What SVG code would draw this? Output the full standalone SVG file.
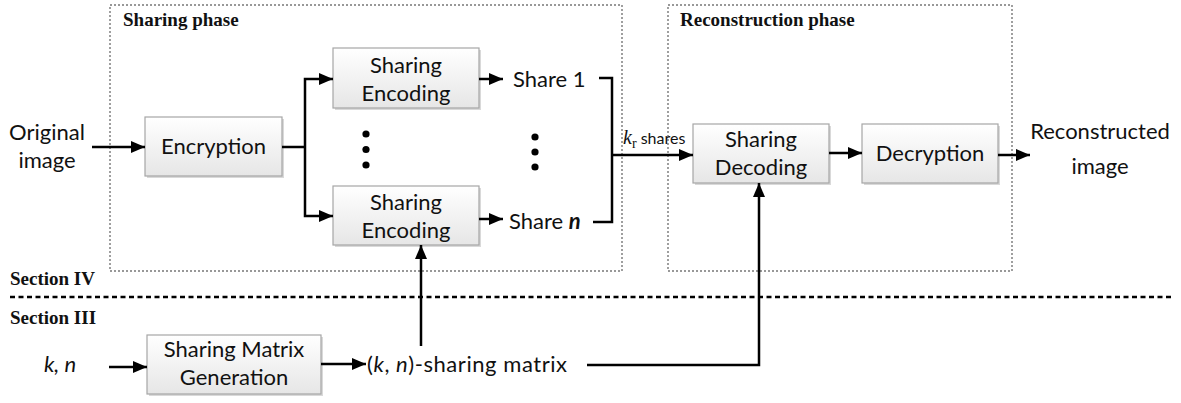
<svg xmlns="http://www.w3.org/2000/svg" width="1181" height="403" viewBox="0 0 1181 403">
  <style>
    .box { fill: url(#boxFill); stroke: #a6a6a6; stroke-width: 1.2; }
    .shadow { fill: #d9d9d9; }
    .lbl { font-family: Lato, "Liberation Sans", sans-serif; font-size: 22px; fill: #111; text-anchor: middle; }
    .lbl-l { font-family: Lato, "Liberation Sans", sans-serif; font-size: 22px; fill: #111; }
    .phase { font-family: "Liberation Serif", serif; font-weight: bold; font-size: 19px; fill: #111; }
    .region { fill: none; stroke: #777; stroke-width: 1.4; stroke-dasharray: 2 2; }
    .wire { fill: none; stroke: #000; stroke-width: 2.5; }
    .arrow { fill: none; stroke: #000; stroke-width: 2.5; marker-end: url(#head); }
    .divider { stroke: #000; stroke-width: 2.6; stroke-dasharray: 5 3.5; }
    .dot { fill: #000; }
  </style>
  <defs>
    <linearGradient id="boxFill" x1="0" y1="0" x2="0" y2="1">
      <stop offset="0" stop-color="#ffffff"/>
      <stop offset="1" stop-color="#e6e6e6"/>
    </linearGradient>
    <marker id="head" viewBox="0 0 14 12" refX="14" refY="6" markerWidth="14" markerHeight="12" markerUnits="userSpaceOnUse" orient="auto">
      <path d="M0,0 L14,6 L0,12 z" fill="#000"/>
    </marker>
  </defs>

  <rect width="1181" height="403" fill="#fff"/>

  <!-- phase regions -->
  <g id="sharing-phase">
    <rect class="region" x="110" y="5" width="512" height="266"/>
    <text class="phase" x="123" y="26">Sharing phase</text>
  </g>
  <g id="reconstruction-phase">
    <rect class="region" x="668" y="5" width="344" height="266"/>
    <text class="phase" x="680" y="26">Reconstruction phase</text>
  </g>

  <!-- section split -->
  <g id="sections">
    <text class="phase" x="10" y="285">Section IV</text>
    <line class="divider" x1="10" y1="297" x2="1172" y2="297"/>
    <text class="phase" x="10" y="324">Section III</text>
  </g>

  <!-- nodes -->
  <g id="original-image">
    <text class="lbl" x="47" y="140">Original</text>
    <text class="lbl" x="47" y="168">image</text>
  </g>

  <g id="encryption">
    <rect class="shadow" x="147" y="119" width="137" height="59"/>
    <rect class="box" x="145" y="117" width="137" height="59"/>
    <text class="lbl" x="213.5" y="154">Encryption</text>
  </g>

  <g id="sharing-encoding-1">
    <rect class="shadow" x="335" y="50" width="146" height="60"/>
    <rect class="box" x="333" y="48" width="146" height="60"/>
    <text class="lbl" x="406" y="73">Sharing</text>
    <text class="lbl" x="406" y="101">Encoding</text>
  </g>

  <g id="sharing-encoding-n">
    <rect class="shadow" x="335" y="188" width="146" height="59"/>
    <rect class="box" x="333" y="186" width="146" height="59"/>
    <text class="lbl" x="406" y="210">Sharing</text>
    <text class="lbl" x="406" y="238">Encoding</text>
  </g>

  <g id="ellipsis-encoders">
    <circle class="dot" cx="366" cy="134" r="3.6"/>
    <circle class="dot" cx="366" cy="149.5" r="3.6"/>
    <circle class="dot" cx="366" cy="165" r="3.6"/>
  </g>

  <g id="share-1">
    <text class="lbl-l" x="513" y="87">Share 1</text>
  </g>
  <g id="share-n">
    <text class="lbl-l" x="509" y="229">Share <tspan font-weight="bold" font-style="italic">n</tspan></text>
  </g>
  <g id="ellipsis-shares">
    <circle class="dot" cx="535" cy="137" r="3.6"/>
    <circle class="dot" cx="535" cy="152" r="3.6"/>
    <circle class="dot" cx="535" cy="167" r="3.6"/>
  </g>

  <g id="sharing-decoding">
    <rect class="shadow" x="695" y="126" width="136" height="59"/>
    <rect class="box" x="693" y="124" width="136" height="59"/>
    <text class="lbl" x="761" y="147">Sharing</text>
    <text class="lbl" x="761" y="175">Decoding</text>
  </g>

  <g id="decryption">
    <rect class="shadow" x="864" y="126" width="136" height="59"/>
    <rect class="box" x="862" y="124" width="136" height="59"/>
    <text class="lbl" x="930" y="161">Decryption</text>
  </g>

  <g id="reconstructed-image">
    <text class="lbl" x="1100" y="139">Reconstructed</text>
    <text class="lbl" x="1100" y="174">image</text>
  </g>

  <g id="params">
    <text class="lbl" x="60" y="372" font-style="italic">k, n</text>
  </g>

  <g id="matrix-generation">
    <rect class="shadow" x="149" y="337" width="174" height="59"/>
    <rect class="box" x="147" y="335" width="174" height="59"/>
    <text class="lbl" x="234" y="357">Sharing Matrix</text>
    <text class="lbl" x="234" y="385">Generation</text>
  </g>

  <g id="sharing-matrix">
    <text class="lbl-l" x="367" y="372" textLength="200" lengthAdjust="spacing">(<tspan font-style="italic">k</tspan>, <tspan font-style="italic">n</tspan>)-sharing matrix</text>
  </g>

  <!-- connectors -->
  <g id="connectors">
    <line class="arrow" x1="92" y1="147" x2="145" y2="147"/>
    <polyline class="wire" points="282,147 305,147"/>
    <polyline class="arrow" points="305,147 305,79 333,79"/>
    <polyline class="arrow" points="305,147 305,216 333,216"/>
    <line class="arrow" x1="479" y1="79" x2="503" y2="79"/>
    <line class="arrow" x1="479" y1="219" x2="503" y2="219"/>
    <polyline class="wire" points="599,78 612,78 612,222 593,222"/>
    <line class="arrow" x1="612" y1="155" x2="693" y2="155"/>
    <text x="623" y="144" font-family="Lato, 'Liberation Sans', sans-serif" font-size="16" fill="#111"><tspan font-family="'Liberation Serif', serif" font-style="italic" font-size="20">k</tspan><tspan font-family="'Liberation Serif', serif" font-size="14" dy="4">r</tspan><tspan dy="-4"> shares</tspan></text>
    <line class="arrow" x1="829" y1="153" x2="862" y2="153"/>
    <line class="arrow" x1="998" y1="155" x2="1030" y2="155"/>
    <line class="arrow" x1="109" y1="367" x2="147" y2="367"/>
    <line class="arrow" x1="321" y1="364" x2="366" y2="364"/>
    <line class="arrow" x1="421" y1="346" x2="421" y2="245"/>
    <polyline class="arrow" points="587,365 759,365 759,183"/>
  </g>
</svg>
